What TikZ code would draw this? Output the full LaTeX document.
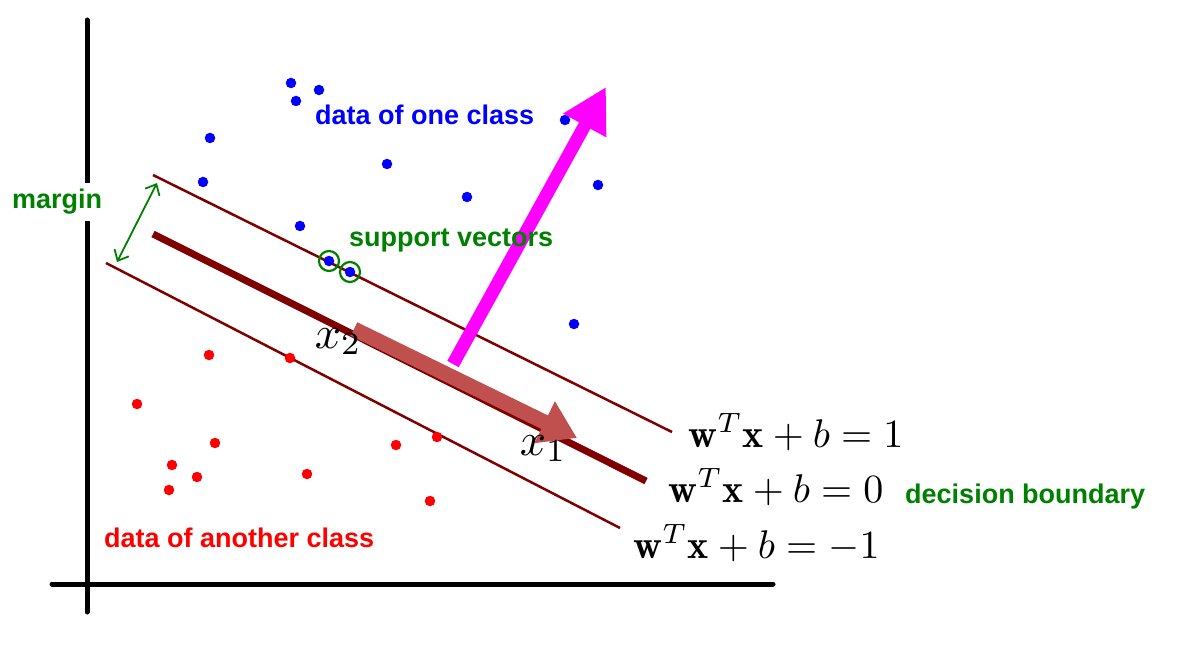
\documentclass[tikz,border=0pt]{standalone}
\usepackage{fontspec}
\newfontfamily\labfont{Liberation Sans}
\usetikzlibrary{arrows.meta}
\definecolor{dred}{RGB}{128,0,0}
\definecolor{brw}{RGB}{192,80,77}
\definecolor{grn}{RGB}{0,128,0}
\definecolor{mag}{RGB}{255,0,255}
\begin{document}
\begin{tikzpicture}[x=1pt,y=-1pt,
  axisline/.style={line width=5pt, line cap=round},
  mline/.style={dred, line width=2.5pt},
  bline/.style={dred, line width=7pt},
  bdot/.style={circle, fill=blue, inner sep=0pt, minimum size=10.5pt},
  rdot/.style={circle, fill=red, inner sep=0pt, minimum size=10.5pt},
  svring/.style={circle, draw=grn, line width=2.2pt, inner sep=0pt, minimum size=20pt},
  lab/.style={font=\fontsize{27}{30}\selectfont\labfont\bfseries, inner sep=0pt},
  eq/.style={scale=4.0, inner sep=0pt},
  xl/.style={scale=4.6, inner sep=0pt}]
\useasboundingbox (0,0) rectangle (1177,660);
% axes
\coordinate (yt) at (87,20);
\coordinate (yb) at (87,612);
\coordinate (xl) at (52,584);
\coordinate (xr) at (773,584);
\draw[axisline] (yt) -- (yb);
\draw[axisline] (xl) -- (xr);
% lines
\coordinate (u1) at (153,175); \coordinate (u2) at (672,432);
\coordinate (d1) at (153,234); \coordinate (d2) at (646,481);
\coordinate (l1) at (106,263); \coordinate (l2) at (620,528);
\draw[mline] (u1) -- (u2);
\draw[bline] (d1) -- (d2);
\draw[mline] (l1) -- (l2);
% margin arrow
\coordinate (m1) at (157,183); \coordinate (m2) at (117,262);
\draw[grn, line width=1.8pt, {Straight Barb[length=9pt,width=16pt]}-{Straight Barb[length=9pt,width=16pt]}] (m1) -- (m2);
% blue points
\foreach \n/\p in {b1/{(291,83)}, b2/{(319,90)}, b3/{(296,101)}, b4/{(210,138)}, b5/{(565,120)}, b6/{(387,164)}, b7/{(203,182)}, b8/{(598,185)}, b9/{(467,197)}, b10/{(300,226)}, b11/{(329,261)}, b12/{(350,272)}, b13/{(574,324)}}
  \node[bdot] (\n) at \p {};
\node[svring] (s1) at (b11) {};
\node[svring] (s2) at (b12) {};
% red points
\foreach \n/\p in {r1/{(209,355)}, r2/{(290,358)}, r3/{(137,404)}, r4/{(215,443)}, r5/{(172,465)}, r6/{(197,477)}, r7/{(169,490)}, r8/{(307,474)}, r9/{(396,445)}, r10/{(437,437)}, r11/{(430,501)}}
  \node[rdot] (\n) at \p {};
% arrows
\coordinate (a1) at (354,329); \coordinate (a2) at (577,438);
\draw[brw, line width=15pt, -{Triangle[length=36pt,width=44pt]}] (a1) -- (a2);
\coordinate (p1) at (453,364); \coordinate (p2) at (606,87);
\draw[mag, line width=13pt, -{Triangle[length=44pt,width=46pt]}] (p1) -- (p2);
% labels
\node[lab, blue, anchor=base west] (t1) at (315,125) {data of one class};
\node[lab, grn, anchor=base west] (t2) at (349,247) {support vectors};
\node[lab, grn, anchor=base west, fill=white, inner ysep=6pt] (t3) at (12,209) {margin};
\node[lab, grn, anchor=base west] (t4) at (905,503) {decision boundary};
\node[lab, red, anchor=base west] (t5) at (104,547) {data of another class};
\node[eq, anchor=base west] (e1) at (688,447) {$\mathbf{w}^T\mathbf{x}+b=1$};
\node[eq, anchor=base west] (e2) at (668,502) {$\mathbf{w}^T\mathbf{x}+b=0$};
\node[eq, anchor=base west] (e3) at (633,558) {$\mathbf{w}^T\mathbf{x}+b=-1$};
\node[xl, anchor=base west] (x2) at (314,348) {$x_2$};
\node[xl, anchor=base west] (x1) at (519,455) {$x_1$};
\end{tikzpicture}
\end{document}
